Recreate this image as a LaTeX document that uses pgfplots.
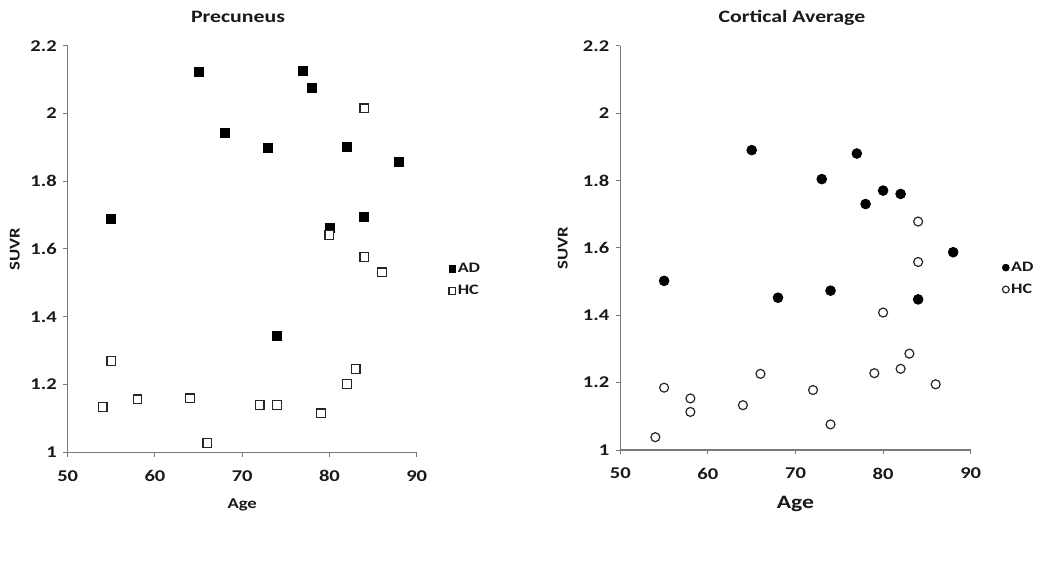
\documentclass[border=0pt]{standalone}
\usepackage{pgfplots}
\pgfplotsset{compat=1.18}
\usepackage{fontspec}
\setmainfont{Carlito}[FakeStretch=1.25]

\definecolor{axisgray}{RGB}{120,120,120}
\definecolor{txt}{RGB}{25,25,25}

\pgfplotsset{
  panel/.style={
    scale only axis,
    anchor=south west,
    xmin=50, xmax=90, ymin=1, ymax=2.2,
    xtick={50,60,70,80,90},
    ytick={1,1.2,1.4,1.6,1.8,2,2.2},
    axis x line*=bottom, axis y line*=left,
    axis line style={-, draw=axisgray, line width=1.4pt},
    tick align=outside, major tick length=4.5bp,
    tick style={draw=axisgray, line width=1pt},
    ticklabel style={font=\bfseries\fontsize{16.5}{19}\selectfont, text=txt},
    yticklabel style={xshift=-3bp},
    xticklabel style={yshift=-10bp},
    /pgf/number format/assume math mode=true,
    clip=false,
    title style={anchor=center, text=txt, font=\bfseries\fontsize{17.5}{20}\selectfont},
    label style={text=txt, font=\bfseries\fontsize{15}{18}\selectfont},
    legend style={draw=none, fill=none, anchor=west, inner sep=0pt,
      row sep=7bp, text=txt, font=\bfseries\fontsize{14.5}{16}\selectfont,
      legend cell align=left},
    legend image code/.code={\draw[#1, mark size=3.4pt] plot coordinates {(0pt,0pt)};},
  },
  ad/.style={only marks, mark options={fill=black, draw=black, line width=0.8pt}},
  hc/.style={only marks, mark options={fill=white, draw=black!85, line width=1.2pt}},
}

\begin{document}
\begin{tikzpicture}
\useasboundingbox (0,0) rectangle (1050bp,570bp);

% left panel
\begin{axis}[panel,
  at={(67.7bp,117.7bp)}, width=349bp, height=406.6bp,
  title={Precuneus},
  title style={at={(axis description cs:0.488,1.055)}},
  xlabel={Age}, ylabel={SUVR},
  xlabel style={at={(axis description cs:0.5,-0.13)}, anchor=center},
  ylabel style={at={(axis description cs:-0.152,0.5)}, anchor=center},
  legend style={at={(axis description cs:1.092,0.424)}},
]
\addplot[ad, mark=square*, mark size=4.5pt] coordinates {
  (55,1.689) (65,2.123) (68,1.944) (73,1.897) (77,2.127) (78,2.076)
  (82,1.901) (88,1.858) (80,1.661) (84,1.695) (74,1.343)
};
\addlegendentry{AD}
\addplot[hc, mark=square*, mark size=4.4pt] coordinates {
  (84,2.015) (80,1.641) (84,1.577) (86,1.531) (55,1.270) (54,1.134)
  (58,1.156) (64,1.159) (66,1.027) (72,1.140) (74,1.140) (79,1.115)
  (82,1.201) (83,1.245)
};
\addlegendentry{HC}
\end{axis}

% right panel
\begin{axis}[panel,
  at={(620.3bp,120bp)}, width=350.4bp, height=404.3bp,
  title={Cortical Average},
  title style={at={(axis description cs:0.49,1.055)}},
  xlabel={Age}, ylabel={SUVR},
  xlabel style={at={(axis description cs:0.5,-0.133)}, anchor=center,
    font=\bfseries\fontsize{19}{22}\selectfont},
  ylabel style={at={(axis description cs:-0.164,0.5)}, anchor=center},
  legend style={at={(axis description cs:1.09,0.424)}},
]
\addplot[ad, mark=*, mark size=4.9pt] coordinates {
  (55,1.502) (65,1.890) (68,1.452) (73,1.804) (74,1.473) (77,1.880)
  (78,1.730) (80,1.770) (82,1.760) (84,1.447) (88,1.587)
};
\addlegendentry{AD}
\addplot[hc, mark=*, mark size=4.5pt] coordinates {
  (54,1.038) (55,1.185) (58,1.153) (58,1.113) (64,1.133) (66,1.226)
  (72,1.178) (74,1.076) (79,1.228) (80,1.408) (82,1.241) (83,1.286)
  (84,1.678) (84,1.558) (86,1.195)
};
\addlegendentry{HC}
\end{axis}
\end{tikzpicture}
\end{document}
